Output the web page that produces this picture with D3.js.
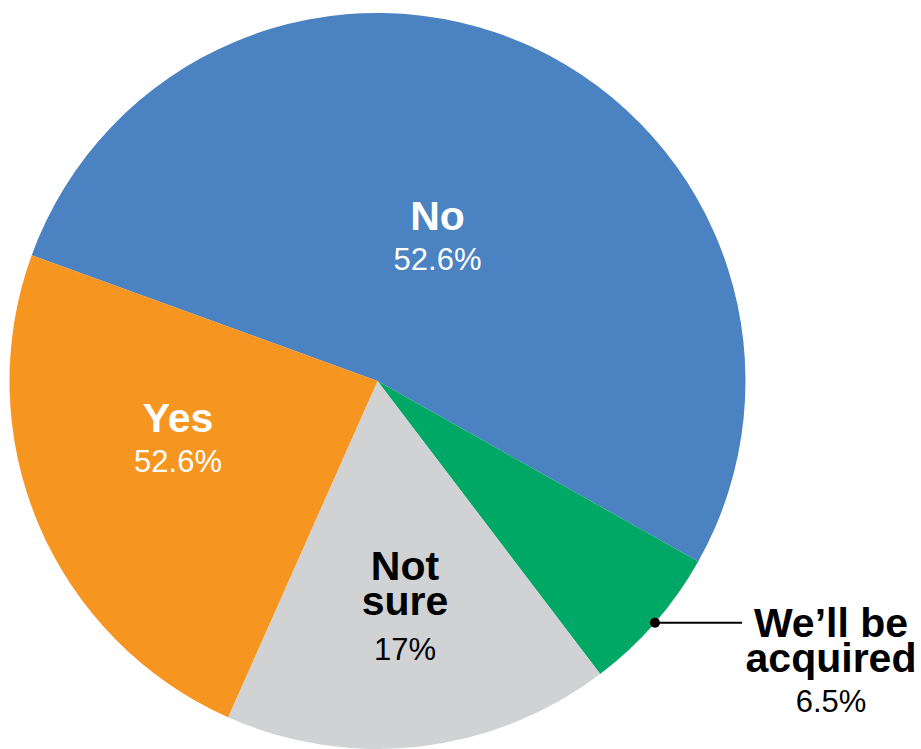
<!DOCTYPE html>
<html>
<head>
<meta charset="utf-8">
<script src="https://cdn.jsdelivr.net/npm/d3@7"></script>
<style>
  html, body { margin: 0; padding: 0; background: #ffffff; }
  svg { display: block; }
  text { font-family: "Liberation Sans", Arial, Helvetica, sans-serif; }
</style>
</head>
<body>
<svg id="chart" width="921" height="749"></svg>
<script>
// Survey answers, drawn clockwise starting from the "No" slice
const categories = ["No", "We\u2019ll be acquired", "Not sure", "Yes"];
const shares = [52.6, 6.5, 17, 23.9];
// Percent text printed under each category name
const shareLabels = ["52.6%", "6.5%", "17%", "52.6%"];
const colors = ["#4a82c2", "#00a866", "#d1d2d4", "#f6951f"];

const width = 921, height = 749;
const cx = 377.5, cy = 381, radius = 368;

const svg = d3.select("#chart");
const g = svg.append("g").attr("transform", `translate(${cx},${cy})`);

const pie = d3.pie()
  .value(d => d)
  .sort(null)
  .startAngle(-70 * Math.PI / 180)
  .endAngle(290 * Math.PI / 180);

const arcs = pie(shares);
const arc = d3.arc().innerRadius(0).outerRadius(radius);

g.selectAll("path.slice")
  .data(arcs)
  .join("path")
  .attr("class", "slice")
  .attr("d", arc)
  .attr("fill", (d, i) => colors[i]);

// Label placement: lines of the category name, percent line, colour and anchor point
const labelLayout = [
  { lines: ["No"], x: 437.5, y: 230, pctY: 270, fill: "#ffffff" },
  { lines: ["We\u2019ll be", "acquired"], x: 831, y: 636.5, pctY: 711.5, fill: "#000000" },
  { lines: ["Not", "sure"], x: 405, y: 580, pctY: 660, fill: "#000000" },
  { lines: ["Yes"], x: 178, y: 431.5, pctY: 471.5, fill: "#ffffff" }
];

const labels = svg.append("g");
labelLayout.forEach((L, i) => {
  const t = labels.append("text")
    .attr("text-anchor", "middle")
    .attr("fill", L.fill)
    .attr("font-weight", "bold")
    .attr("font-size", 41);
  L.lines.forEach((line, k) => {
    t.append("tspan")
      .attr("x", L.x)
      .attr("y", L.y + k * 35)
      .text(line);
  });
  labels.append("text")
    .attr("text-anchor", "middle")
    .attr("fill", L.fill)
    .attr("font-size", 31)
    .attr("x", L.x)
    .attr("y", L.pctY)
    .text(shareLabels[i]);
});

// Leader line from the rim of the small slice out to its label
const small = arcs[1];
const mid = (small.startAngle + small.endAngle) / 2;
const px = cx + radius * Math.sin(mid);
const py = cy - radius * Math.cos(mid);
svg.append("line")
  .attr("x1", px).attr("y1", py)
  .attr("x2", 742).attr("y2", py)
  .attr("stroke", "#000").attr("stroke-width", 2);
svg.append("circle")
  .attr("cx", px).attr("cy", py).attr("r", 5)
  .attr("fill", "#000");
</script>
</body>
</html>
